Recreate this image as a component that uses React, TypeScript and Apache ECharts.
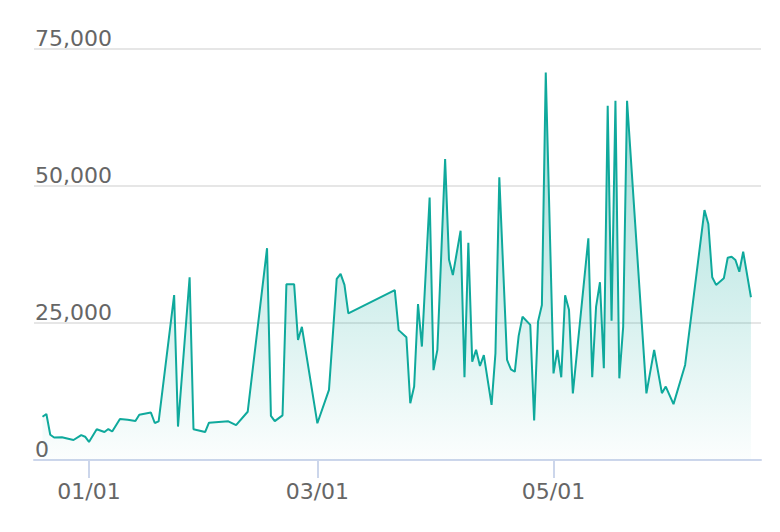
import React, { useEffect, useRef } from "react";
import * as echarts from "echarts";

const dates: string[] = [
  "2018-12-20", "2018-12-21", "2018-12-22", "2018-12-23", "2018-12-25", "2018-12-28", "2018-12-30", "2018-12-31",
  "2019-01-01", "2019-01-03", "2019-01-05", "2019-01-06", "2019-01-07", "2019-01-09", "2019-01-11", "2019-01-13",
  "2019-01-14", "2019-01-17", "2019-01-18", "2019-01-19", "2019-01-23", "2019-01-24", "2019-01-27", "2019-01-28",
  "2019-01-31", "2019-02-01", "2019-02-06", "2019-02-08", "2019-02-11", "2019-02-16", "2019-02-17", "2019-02-18",
  "2019-02-20", "2019-02-21", "2019-02-23", "2019-02-24", "2019-02-25", "2019-03-01", "2019-03-04", "2019-03-06",
  "2019-03-07", "2019-03-08", "2019-03-09", "2019-03-21", "2019-03-22", "2019-03-24", "2019-03-25", "2019-03-26",
  "2019-03-27", "2019-03-28", "2019-03-30", "2019-03-31", "2019-04-01", "2019-04-03", "2019-04-04", "2019-04-05",
  "2019-04-07", "2019-04-08", "2019-04-09", "2019-04-10", "2019-04-11", "2019-04-12", "2019-04-13", "2019-04-15",
  "2019-04-16", "2019-04-17", "2019-04-19", "2019-04-20", "2019-04-21", "2019-04-22", "2019-04-23", "2019-04-25",
  "2019-04-26", "2019-04-27", "2019-04-28", "2019-04-29", "2019-05-01", "2019-05-02", "2019-05-03", "2019-05-04",
  "2019-05-05", "2019-05-06", "2019-05-10", "2019-05-11", "2019-05-12", "2019-05-13", "2019-05-14", "2019-05-15",
  "2019-05-16", "2019-05-17", "2019-05-18", "2019-05-19", "2019-05-20", "2019-05-25", "2019-05-27", "2019-05-29",
  "2019-05-30", "2019-06-01", "2019-06-04", "2019-06-09", "2019-06-10", "2019-06-11", "2019-06-12", "2019-06-14",
  "2019-06-15", "2019-06-16", "2019-06-17", "2019-06-18", "2019-06-19", "2019-06-21",
];

const values: number[] = [
  7900, 8400, 4600, 4100, 4150, 3650, 4550, 4250,
  3300, 5600, 5100, 5650, 5200, 7500, 7350, 7100,
  8250, 8650, 6750, 7050, 30100, 6100, 33350, 5600,
  5100, 6800, 7050, 6350, 8800, 38650, 8050, 7100,
  8150, 32050, 32050, 21900, 24300, 6700, 12800, 33050,
  33950, 31950, 26750, 31000, 23700, 22400, 10350, 13400,
  28450, 20700, 47900, 16400, 20100, 54900, 36600, 33750,
  41850, 15100, 39650, 17950, 20100, 17150, 19150, 10050,
  19450, 51600, 18250, 16550, 16100, 22650, 26150, 24650,
  7200, 25250, 28300, 70700, 15800, 20100, 15100, 30050,
  27400, 12150, 40450, 15100, 28000, 32450, 16750, 64650,
  25400, 65550, 14900, 24350, 65550, 12150, 20100, 12200,
  13400, 10200, 17350, 45600, 43050, 33350, 31950, 33150,
  36900, 37100, 36500, 34350, 38000, 29700,
];

const xTickDates: string[] = ["2019-01-01", "2019-03-01", "2019-05-01"];
// axis extent, in days relative to 2019-01-01
const xRangeDays: number[] = [-14.2, 173.6];
const yTicks: number[] = [0, 25000, 50000, 75000];

const LINE = "#0fa99c";
const DAY = 86400000;

export default function App() {
  const ref = useRef<HTMLDivElement>(null);

  useEffect(() => {
    if (!ref.current) return;
    const chart = echarts.init(ref.current, null, { renderer: "svg" });
    const data = dates.map((d, i) => [Date.parse(d), values[i]]);
    const tickVals = xTickDates.map((d) => Date.parse(d));
    const origin = Date.parse(xTickDates[0]);
    const pad = (n: number) => (n < 10 ? "0" + n : "" + n);

    chart.setOption({
      animation: false,
      grid: {
        left: 34,
        right: 19,
        top: 49,
        bottom: 72,
        outerBoundsMode: "none",
        containLabel: false,
      },
      xAxis: {
        type: "value",
        min: origin + xRangeDays[0] * DAY,
        max: origin + xRangeDays[1] * DAY,
        axisLine: { show: true, lineStyle: { color: "#ccd6eb", width: 2 } },
        axisTick: {
          show: true,
          length: 18,
          customValues: tickVals,
          lineStyle: { color: "#ccd6eb", width: 2 },
        },
        axisLabel: {
          customValues: tickVals,
          margin: 20,
          color: "#666666",
          fontFamily: "DejaVu Sans",
          fontSize: 22,
          formatter: (v: number) => {
            const dt = new Date(v);
            return pad(dt.getUTCMonth() + 1) + "/" + pad(dt.getUTCDate());
          },
        },
        splitLine: { show: false },
      },
      yAxis: {
        type: "value",
        min: yTicks[0],
        max: yTicks[yTicks.length - 1],
        interval: yTicks[1] - yTicks[0],
        axisLine: { show: false },
        axisTick: { show: false },
        axisLabel: {
          inside: true,
          margin: 1,
          align: "left",
          verticalAlign: "bottom",
          padding: [0, 0, 0, 0],
          color: "#666666",
          fontFamily: "DejaVu Sans",
          fontSize: 22,
        },
        splitLine: { show: true, lineStyle: { color: "#e6e6e6", width: 2 } },
      },
      series: [
        {
          type: "line",
          data,
          showSymbol: false,
          symbol: "none",
          lineStyle: { color: LINE, width: 2 },
          itemStyle: { color: LINE },
          areaStyle: {
            color: new echarts.graphic.LinearGradient(0, 0, 0, 1, [
              { offset: 0, color: "rgba(15,169,156,0.6)" },
              { offset: 1, color: "rgba(15,169,156,0.02)" },
            ]),
          },
        },
      ],
    });

    return () => chart.dispose();
  }, []);

  return (
    <div
      ref={ref}
      style={{ position: "fixed", left: 0, top: 0, width: 780, height: 532, background: "#ffffff" }}
    />
  );
}
